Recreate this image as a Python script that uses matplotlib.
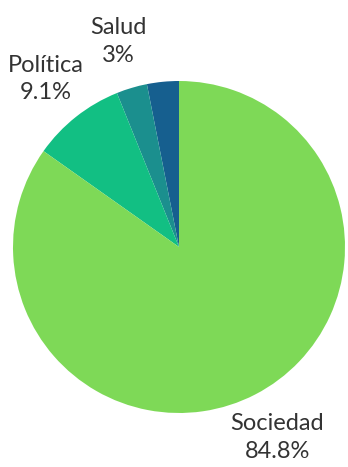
import matplotlib.pyplot as plt

# datos del gráfico
categorias = ['', 'Salud', 'Política', 'Sociedad']
valores = [3.1, 3.0, 9.1, 84.8]
etiquetas = ['3.1%', '3%', '9.1%', '84.8%']
colores = ['#165f8f', '#1b8f8e', '#12bf83', '#7ed957']

plt.rcParams['font.family'] = ['Lato', 'DejaVu Sans']

fig = plt.figure(figsize=(3.48, 4.67), dpi=100)
ax = fig.add_axes([0, 0, 1, 1])

textos = [f'{c}\n{e}' if c else '' for c, e in zip(categorias, etiquetas)]
wedges, texts = ax.pie(valores, labels=textos, colors=colores, startangle=90,
                       counterclock=True, labeldistance=1.29,
                       textprops=dict(fontsize=17, color='#333333',
                                      ha='center', va='center', linespacing=1.4))

# centro del pastel en (179, 247) px, radio 166 px
ax.set_xlim(-179 / 166, (348 - 179) / 166)
ax.set_ylim(-(467 - 247) / 166, 247 / 166)
ax.set_aspect('equal')
ax.axis('off')

plt.savefig('out.png', dpi=100)
